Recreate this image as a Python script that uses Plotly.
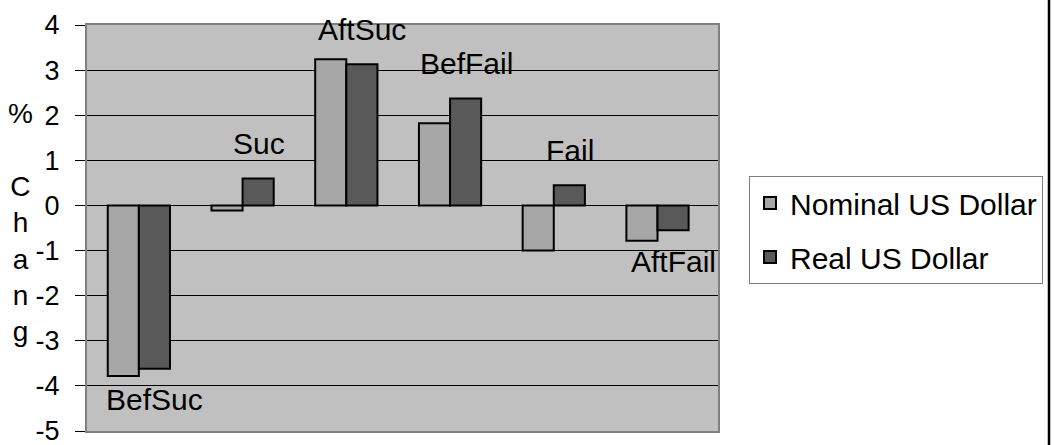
import plotly.graph_objects as go

categories = ["BefSuc", "Suc", "AftSuc", "BefFail", "Fail", "AftFail"]
nominal = [-3.78, -0.11, 3.24, 1.82, -1.0, -0.78]
real = [-3.62, 0.6, 3.13, 2.37, 0.45, -0.55]
series_names = ["Nominal US Dollar", "Real US Dollar"]
y_ticks = [4, 3, 2, 1, 0, -1, -2, -3, -4, -5]
y_tick_text = ["4", "3", "2", "1", "0", "-1", "-2", "-3", "-4", "-5"]

FONT = "Liberation Sans, Arial, sans-serif"

fig = go.Figure()
fig.add_trace(go.Bar(x=categories, y=nominal, name=series_names[0], legendgroup="a",
                     marker=dict(color="#a6a6a6", line=dict(color="black", width=2))))
fig.add_trace(go.Bar(x=categories, y=real, name=series_names[1], legendgroup="b",
                     marker=dict(color="#595959", line=dict(color="black", width=2))))

for c, v in zip(categories, real):
    fig.add_annotation(x=c, y=v, text=c, showarrow=False, xshift=16,
                       yshift=35 if v >= 0 else -31,
                       font=dict(size=30, color="black", family=FONT))

fig.add_annotation(xref="paper", yref="paper", x=-0.105, y=(431 - 113) / 406,
                   text="%<br> <br>C<br>h<br>a<br>n<br>g", showarrow=False,
                   xanchor="center", yanchor="middle", align="center",
                   font=dict(size=28, color="black", family=FONT), yshift=-109)

fig.add_shape(type="line", xref="paper", yref="paper",
              x0=(1049 - 87) / 631, x1=(1049 - 87) / 631, y0=-0.05, y1=1.1,
              line=dict(color="black", width=2.5), layer="above")

fig.update_layout(
    width=1055, height=445,
    margin=dict(l=87, r=337, t=25, b=14, autoexpand=False),
    paper_bgcolor="white", plot_bgcolor="#c0c0c0",
    barmode="group", bargap=0.4, bargroupgap=0,
    font=dict(family=FONT, color="black"),
    showlegend=True,
    legend=dict(x=(749 - 87) / 631, y=(431 - 176) / 406, xanchor="left", yanchor="top",
                bgcolor="white", bordercolor="#808080", borderwidth=1,
                font=dict(size=30, family=FONT, color="black"),
                itemsizing="constant", tracegroupgap=12, traceorder="grouped",
                itemwidth=30),
)
fig.update_xaxes(showticklabels=False, showgrid=False, ticks="", automargin=False,
                 showline=True, mirror=True, linecolor="#808080", linewidth=2)
fig.update_yaxes(range=[-5, 4], tickvals=y_ticks, ticktext=y_tick_text,
                 ticks="outside", ticklen=10, automargin=False,
                 tickcolor="black", tickwidth=1,
                 tickfont=dict(size=27, family=FONT, color="black"),
                 ticklabeloverflow="allow",
                 showgrid=True, gridcolor="black", gridwidth=1,
                 zeroline=True, zerolinecolor="black", zerolinewidth=1,
                 showline=True, mirror=True, linecolor="#808080", linewidth=2,
                 ticklabelstandoff=10)

fig.write_html("out.html", config={"displayModeBar": False},
               post_script="document.body.style.margin='0';")
